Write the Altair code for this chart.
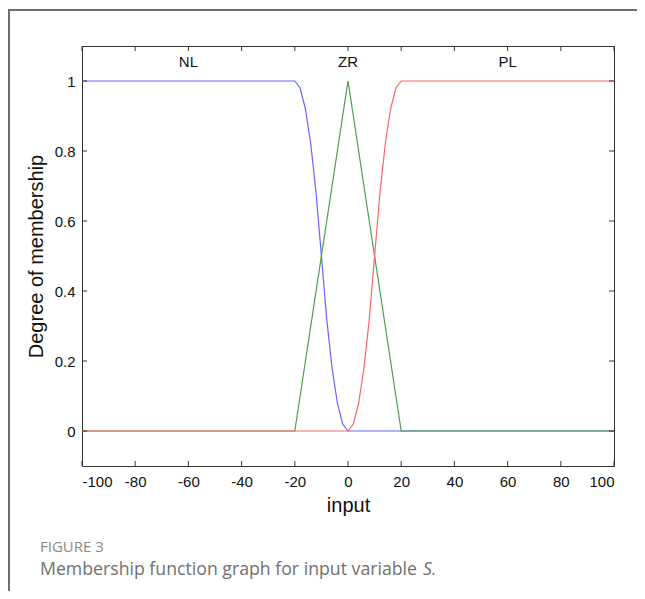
import altair as alt
import pandas as pd

# ---- data ----
nl_x = [-100, -20, -18, -16, -14, -12, -10, -8, -6, -4, -2, 0, 100]
nl_y = [1, 1, 0.98, 0.92, 0.82, 0.68, 0.5, 0.32, 0.18, 0.08, 0.02, 0, 0]
zr_x = [-100, -20, 0, 20, 100]
zr_y = [0, 0, 1, 0, 0]
pl_x = [-100, 0, 2, 4, 6, 8, 10, 12, 14, 16, 18, 20, 100]
pl_y = [0, 0, 0.02, 0.08, 0.18, 0.32, 0.5, 0.68, 0.82, 0.92, 0.98, 1, 1]

mf_names = ["NL", "ZR", "PL"]
mf_label_x = [-60, 0, 60]
mf_label_y = [1.055, 1.055, 1.055]

x_ticks = [-100, -80, -60, -40, -20, 0, 20, 40, 60, 80, 100]
y_ticks = [0, 0.2, 0.4, 0.6, 0.8, 1]

caption_head = "FIGURE 3"
caption_body = "Membership function graph for input variable "
caption_var = "S."

W, H = 532, 420
FONT = "Liberation Sans"

rows = []
for name, xs_, ys_ in [("NL", nl_x, nl_y), ("ZR", zr_x, zr_y), ("PL", pl_x, pl_y)]:
    for i, (a, b) in enumerate(zip(xs_, ys_)):
        rows.append({"mf": name, "x": a, "y": b, "o": i})
df = pd.DataFrame(rows)

xs = alt.Scale(domain=[-100, 100], nice=False, zero=False)
ys = alt.Scale(domain=[-0.1, 1.1], nice=False, zero=False)

colors = alt.Scale(domain=["NL", "ZR", "PL"], range=["#6464ff", "#4c9e4c", "#ff6464"])

x_axis = alt.Axis(values=x_ticks, title="input", format="d",
                  labelExpr="replace(datum.label, '−', '-')")
y_axis = alt.Axis(values=y_ticks, title="Degree of membership", format="~g")

lines = alt.Chart(df).mark_line(strokeWidth=1.2, clip=True).encode(
    x=alt.X("x:Q", scale=xs, axis=x_axis),
    y=alt.Y("y:Q", scale=ys, axis=y_axis),
    color=alt.Color("mf:N", scale=colors, legend=None),
    order="o:Q",
    detail="mf:N",
)

lab_df = pd.DataFrame({"name": mf_names, "x": mf_label_x, "y": mf_label_y})
labels = alt.Chart(lab_df).mark_text(font=FONT, fontSize=15, color="#111").encode(
    x=alt.X("x:Q", scale=xs, axis=x_axis), y=alt.Y("y:Q", scale=ys, axis=y_axis), text="name:N"
)

xt = pd.DataFrame({"x": x_ticks})
yt = pd.DataFrame({"y": y_ticks})
tick_color = "#333"
xb = alt.Chart(xt).mark_rule(color=tick_color).encode(
    x=alt.X("x:Q", scale=xs, axis=x_axis), y=alt.value(H), y2=alt.value(H - 5))
xtop = alt.Chart(xt).mark_rule(color=tick_color).encode(
    x=alt.X("x:Q", scale=xs, axis=x_axis), y=alt.value(0), y2=alt.value(5))
yl = alt.Chart(yt).mark_rule(color=tick_color).encode(
    y=alt.Y("y:Q", scale=ys, axis=y_axis), x=alt.value(0), x2=alt.value(5))
yr = alt.Chart(yt).mark_rule(color=tick_color).encode(
    y=alt.Y("y:Q", scale=ys, axis=y_axis), x=alt.value(W), x2=alt.value(W - 5))

# figure frame
frame_col = "#6e6e6e"
frame_top = alt.Chart(pd.DataFrame({"a": [0]})).mark_rule(color=frame_col, strokeWidth=2).encode(
    x=alt.value(-74), x2=alt.value(W + 40), y=alt.value(-36))
frame_left = alt.Chart(pd.DataFrame({"a": [0]})).mark_rule(color=frame_col, strokeWidth=2).encode(
    x=alt.value(-73), y=alt.value(-36), y2=alt.value(H + 140))

cap1 = alt.Chart(pd.DataFrame({"t": [caption_head]})).mark_text(
    font="Open Sans", fontSize=15, color="#8a8a8a", align="left", baseline="middle"
).encode(x=alt.value(-42), y=alt.value(501), text="t:N")
cap2 = alt.Chart(pd.DataFrame({"t": [caption_body]})).mark_text(
    font="Open Sans", fontSize=17.7, color="#707070", align="left", baseline="middle"
).encode(x=alt.value(-42), y=alt.value(524), text="t:N")
cap3 = alt.Chart(pd.DataFrame({"t": [caption_var]})).mark_text(
    font="Open Sans", fontSize=17.7, fontStyle="italic", color="#707070", align="left",
    baseline="middle"
).encode(x=alt.value(341), y=alt.value(524), text="t:N")

chart = alt.layer(
    lines, labels, xb, xtop, yl, yr, frame_top, frame_left, cap1, cap2, cap3
).properties(
    width=W, height=H,
    background="white",
    autosize=alt.AutoSizeParams(type="none"),
    padding={"left": 74, "top": 38, "right": 23, "bottom": 125},
).configure_view(
    stroke="#333", strokeWidth=1
).configure_axis(
    ticks=False, domain=False, grid=False,
    labelFont=FONT, labelFontSize=15, labelColor="#111",
    titleFont=FONT, titleFontSize=20, titleFontWeight="normal", titleColor="#111",
).configure_axisX(
    labelPadding=8, titlePadding=6
).configure_axisY(
    labelPadding=7, titlePadding=8
)

chart.save("out.html", embed_options={"renderer": "svg", "actions": False})
